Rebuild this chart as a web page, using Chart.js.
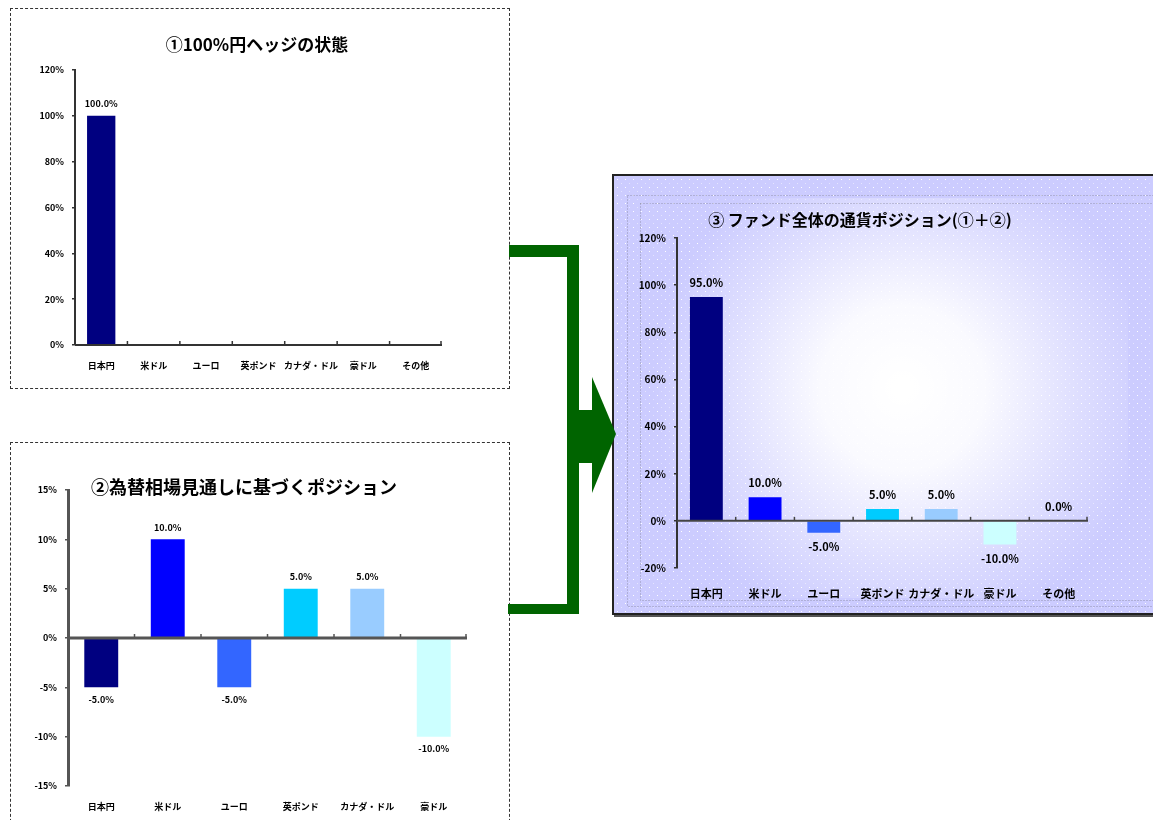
<!DOCTYPE html>
<html lang="ja">
<head>
<meta charset="utf-8">
<script src="https://cdn.jsdelivr.net/npm/chart.js@4.4.1/dist/chart.umd.min.js"></script>
<style>
html,body{margin:0;padding:0;width:1153px;height:820px;overflow:hidden;background:#fff;}
.panel{position:absolute;box-sizing:border-box;}
#p1{left:10px;top:8px;width:500px;height:381px;border:1px dashed #333;}
#p2{left:10px;top:442px;width:500px;height:400px;border:1px dashed #333;border-bottom:none;}
#p3{left:612px;top:174px;width:560px;height:441px;border:2px solid #222;box-shadow:2px 2px 0 #555;}
canvas{display:block;}
svg{position:absolute;left:0;top:0;}
</style>
</head>
<body>
<div class="panel" id="p1"><canvas id="c1" width="498" height="379"></canvas></div>
<div class="panel" id="p2"><canvas id="c2" width="498" height="380"></canvas></div>
<div class="panel" id="p3"><canvas id="c3" width="556" height="437"></canvas></div>
<svg width="1153" height="820">
  <g fill="#006400">
    <rect x="509" y="245" width="70" height="12"/>
    <rect x="567" y="245" width="12" height="369"/>
    <rect x="508" y="604" width="71" height="10"/>
    <rect x="567" y="410" width="27" height="53"/>
    <polygon points="592,377 616,434 592,493"/>
  </g>
</svg>
<script>
// ---- data ----
const categories = ['日本円','米ドル','ユーロ','英ポンド','カナダ・ドル','豪ドル','その他'];
const viewCategories = ['日本円','米ドル','ユーロ','英ポンド','カナダ・ドル','豪ドル'];
const hedgeValues = [100, 0, 0, 0, 0, 0, 0];
const viewValues = [-5, 10, -5, 5, 5, -10];
const totalValues = [95, 10, -5, 5, 5, -10, 0];
const hedgeTicks = [0, 20, 40, 60, 80, 100, 120];
const viewTicks = [-15, -10, -5, 0, 5, 10, 15];
const totalTicks = [-20, 0, 20, 40, 60, 80, 100, 120];
const barColors = ['#000080', '#0000FF', '#3366FF', '#00CCFF', '#99CCFF', '#CCFFFF', '#9999FF'];
const hedgeTitle = '①100%円ヘッジの状態';
const viewTitle = '②為替相場見通しに基づくポジション';
const totalTitle = '③ ファンド全体の通貨ポジション(①＋②)';

const JP = '"Noto Sans CJK JP", "Noto Sans", sans-serif';

// ---- plugins ----
const decor = {
  id: 'decor',
  beforeDraw(chart, args, opts) {
    if (!opts.fancy) return;
    const ctx = chart.ctx, w = chart.width, h = chart.height, a = chart.chartArea;
    const pc = document.createElement('canvas');
    pc.width = 8; pc.height = 8;
    const p = pc.getContext('2d');
    p.fillStyle = '#ccccff'; p.fillRect(0, 0, 8, 8);
    p.fillStyle = '#ffffff'; p.fillRect(3, 3, 1, 1);
    p.fillStyle = '#e4e4ff'; p.fillRect(7, 7, 1, 1);
    ctx.save();
    ctx.fillStyle = ctx.createPattern(pc, 'repeat');
    ctx.fillRect(0, 0, w, h);
    const cx = (a.left + a.right) / 2 + 20, cy = (a.top + a.bottom) / 2 - 15;
    const g = ctx.createRadialGradient(cx, cy, 10, cx, cy, 250);
    g.addColorStop(0, 'rgba(255,255,255,1)');
    g.addColorStop(0.3, 'rgba(255,255,255,0.9)');
    g.addColorStop(0.7, 'rgba(255,255,255,0.35)');
    g.addColorStop(1, 'rgba(255,255,255,0)');
    ctx.fillStyle = g;
    ctx.fillRect(a.left - 40, a.top - 40, a.right - a.left + 80, a.bottom - a.top + 70);
    ctx.strokeStyle = 'rgba(140,140,170,0.9)';
    ctx.lineWidth = 1;
    ctx.setLineDash([1, 2]);
    ctx.strokeRect(13.5, 19.5, w, h - 26);
    ctx.strokeRect(26.5, 27.5, w, h - 40);
    ctx.restore();
  },
  afterDatasetsDraw(chart, args, opts) {
    const ctx = chart.ctx, a = chart.chartArea;
    const xs = chart.scales.x, ys = chart.scales.y;
    const y0 = ys.getPixelForValue(0);
    ctx.save();
    ctx.strokeStyle = opts.axisColor || '#333';
    ctx.lineWidth = opts.axisWidth || 2;
    ctx.beginPath();
    ctx.moveTo(a.left, y0); ctx.lineTo(a.right, y0);
    ctx.stroke();
    ctx.lineWidth = 1.5;
    const n = chart.data.labels.length;
    for (let i = 1; i <= n; i++) {
      const x = i < n ? (xs.getPixelForValue(i - 1) + xs.getPixelForValue(i)) / 2 : a.right - 1;
      ctx.beginPath();
      ctx.moveTo(x, y0); ctx.lineTo(x, y0 - 4);
      ctx.stroke();
    }
    // data labels
    const meta = chart.getDatasetMeta(0);
    const vals = chart.data.datasets[0].data;
    ctx.fillStyle = '#000';
    ctx.font = opts.labelFont;
    ctx.textAlign = 'center';
    ctx.textBaseline = 'middle';
    meta.data.forEach((bar, i) => {
      const v = vals[i];
      if (v === 0 && !opts.showZero) return;
      const txt = v.toFixed(1) + '%';
      const y = v >= 0 ? bar.y - opts.labelOffset : bar.y + opts.labelOffset;
      ctx.fillText(txt, bar.x, y);
    });
    // title
    ctx.font = opts.titleFont;
    ctx.textAlign = 'center';
    ctx.fillText(opts.title, opts.titleX, opts.titleY, opts.titleMax);
    ctx.restore();
  }
};

function build(id, labels, values, ticks, cfg) {
  return new Chart(document.getElementById(id), {
    type: 'bar',
    data: {
      labels: labels,
      datasets: [{
        data: values,
        backgroundColor: barColors.slice(0, labels.length),
        borderWidth: 0,
        barPercentage: cfg.barPct,
        categoryPercentage: 1
      }]
    },
    plugins: [decor],
    options: {
      responsive: false,
      animation: false,
      devicePixelRatio: 1,
      layout: { padding: { top: cfg.top, right: cfg.right, left: 0, bottom: 0 } },
      plugins: {
        legend: { display: false },
        tooltip: { enabled: false },
        title: { display: false },
        decor: cfg.decor
      },
      scales: {
        x: {
          offset: true,
          grid: { display: false, drawTicks: false },
          border: { display: false },
          ticks: { color: '#000', font: { family: JP, size: cfg.xFont, weight: 'bold' }, padding: cfg.xPad, maxRotation: 0, autoSkip: false },
          afterFit(s) { s.height = cfg.xH; }
        },
        y: {
          min: ticks[0],
          max: ticks[ticks.length - 1],
          ticks: { stepSize: ticks[1] - ticks[0], color: '#000', font: { family: JP, size: cfg.yFont, weight: 'bold' }, padding: cfg.yPad, callback: v => v + '%' },
          grid: { drawOnChartArea: false, tickLength: 3, color: cfg.axisColor, lineWidth: 1.5 },
          border: { color: cfg.axisColor, width: cfg.axisW },
          afterFit(s) { s.width = cfg.yW; }
        }
      }
    }
  });
}

build('c1', categories, hedgeValues, hedgeTicks, {
  barPct: 0.54, top: 61, right: 67, xH: 43, yW: 64, xFont: 9, yFont: 9, xPad: 15, yPad: 8,
  axisColor: '#333', axisW: 2,
  decor: { labelFont: 'bold 9px ' + JP, labelOffset: 12, showZero: false, axisColor: '#333', axisWidth: 2,
    title: hedgeTitle, titleFont: 'bold 17px ' + JP, titleX: 246, titleY: 36, titleMax: 200 }
});

build('c2', viewCategories, viewValues, viewTicks, {
  barPct: 0.51, top: 47, right: 42, xH: 37, yW: 57, xFont: 9, yFont: 9, xPad: 15, yPad: 8,
  axisColor: '#555', axisW: 3,
  decor: { labelFont: 'bold 9px ' + JP, labelOffset: 12, showZero: false, axisColor: '#555', axisWidth: 3,
    title: viewTitle, titleFont: 'bold 18px ' + JP, titleX: 233, titleY: 44, titleMax: 314 }
});

build('c3', categories, totalValues, totalTicks, {
  barPct: 0.56, top: 62, right: 82, xH: 45, yW: 63, xFont: 11, yFont: 10, xPad: 19, yPad: 8,
  axisColor: '#333', axisW: 2,
  decor: { fancy: true, labelFont: 'bold 11px ' + JP, labelOffset: 14, showZero: true, axisColor: '#444', axisWidth: 2,
    title: totalTitle, titleFont: 'bold 16px ' + JP, titleX: 246, titleY: 44, titleMax: 336 }
});
</script>
</body>
</html>
